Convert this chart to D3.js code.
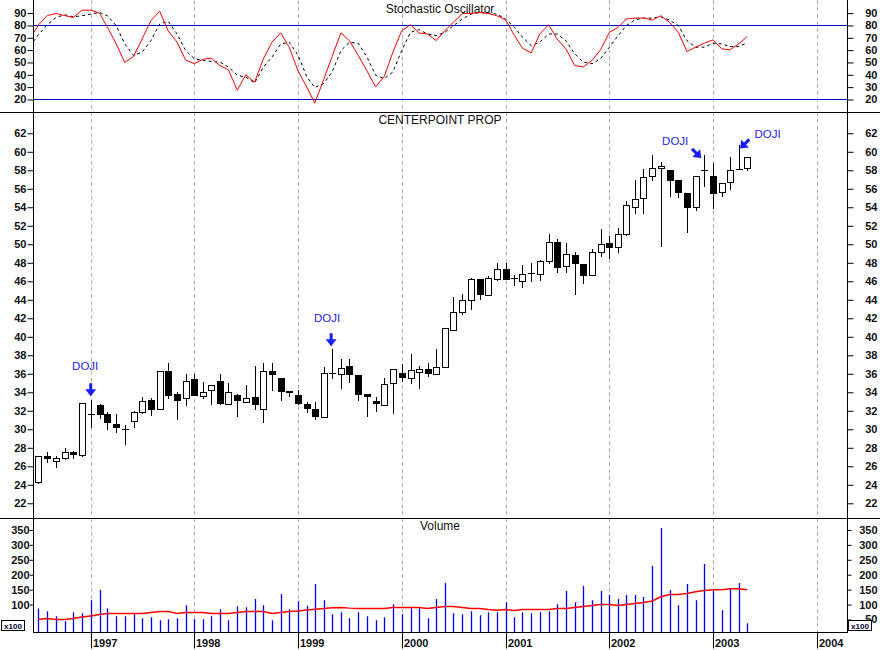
<!DOCTYPE html>
<html>
<head>
<meta charset="utf-8">
<script src="https://cdn.jsdelivr.net/npm/d3@7"></script>
<style>
  body { margin: 0; background: #fff; }
  svg text { font-family: Arial, "Liberation Sans", sans-serif; }
</style>
</head>
<body>
<script>
// monthly bars Jul 1996 .. May 2003
var open = [
  24.3, 27.1, 26.55, 26.9, 27.5, 27.2,
  31.6, 32.6, 31.6, 30.6, 30.0, 30.95, 31.85, 33.2, 32.2, 36.35, 33.85, 33.35,
  35.4, 33.65, 34.2, 35.2, 32.7, 33.7, 33.0, 33.45, 32.15, 36.3, 35.5, 34.15,
  33.75, 32.7, 32.2, 31.3, 36.1, 36.0, 36.8, 35.9, 33.8, 33.05, 32.6, 34.95,
  36.1, 35.5, 36.2, 36.5, 36.0, 36.7, 40.7, 42.65, 43.95, 46.2, 44.5, 46.2,
  47.3, 46.35, 46.0, 46.85, 46.75, 48.15, 50.3, 47.6, 48.85, 47.85, 46.65, 49.15,
  50.15, 49.7, 51.1, 54.0, 54.95, 57.35, 58.2, 58.05, 56.9, 55.5, 54.05, 58.0,
  57.35, 55.6, 56.7, 58.15, 58.2
];
var high = [
  27.1, 27.5, 27.1, 28.0, 27.65, 32.8,
  33.15, 32.7, 31.85, 31.6, 30.45, 31.95, 33.5, 33.4, 36.35, 37.15, 34.05, 36.0,
  35.95, 35.15, 34.8, 35.95, 35.0, 33.8, 34.75, 36.8, 37.15, 37.15, 35.5, 34.15,
  34.2, 33.0, 33.0, 36.75, 38.65, 37.55, 37.55, 35.9, 33.8, 33.5, 35.5, 36.5,
  37.05, 38.15, 36.8, 37.15, 38.65, 40.9, 44.3, 44.65, 46.35, 46.2, 46.6, 48.0,
  48.0, 46.7, 47.75, 48.0, 48.3, 51.1, 50.6, 50.15, 49.15, 47.85, 49.45, 51.6,
  50.9, 51.75, 54.7, 56.95, 58.1, 59.65, 58.85, 58.05, 56.9, 55.5, 57.35, 59.65,
  58.75, 56.6, 59.45, 60.75, 59.4
];
var low = [
  24.15, 26.5, 25.9, 26.8, 26.9, 27.1,
  30.25, 31.2, 30.0, 29.7, 28.45, 30.3, 31.8, 31.5, 32.2, 33.4, 31.1, 32.65,
  33.7, 33.35, 32.75, 32.75, 32.7, 31.45, 32.9, 32.2, 30.75, 34.2, 33.2, 33.55,
  32.7, 31.9, 31.1, 31.3, 35.5, 34.45, 35.15, 33.2, 31.4, 32.0, 32.6, 31.75,
  35.25, 35.0, 34.45, 35.75, 36.0, 36.7, 40.7, 42.5, 43.0, 44.05, 44.5, 46.1,
  46.2, 45.55, 45.4, 46.0, 46.15, 48.0, 46.95, 47.05, 44.65, 45.8, 46.65, 48.7,
  48.55, 49.15, 51.0, 53.4, 53.4, 56.95, 49.85, 55.25, 55.1, 51.35, 53.7, 56.35,
  53.95, 55.25, 55.95, 58.15, 58.05
];
var close = [
  27.1, 26.9, 26.9, 27.5, 27.3, 32.8,
  31.6, 31.7, 30.75, 30.3, 30.0, 31.85, 33.05, 32.2, 36.35, 33.75, 33.2, 35.2,
  33.75, 34.0, 34.75, 32.8, 34.0, 33.2, 33.35, 32.7, 36.35, 35.95, 34.15, 34.0,
  32.8, 32.3, 31.4, 36.05, 36.1, 36.65, 36.0, 33.8, 33.65, 32.8, 34.85, 36.5,
  35.6, 36.4, 36.5, 36.05, 36.7, 40.9, 42.65, 43.95, 46.2, 44.65, 46.35, 47.35,
  46.2, 46.35, 46.75, 46.85, 48.15, 50.3, 47.5, 48.9, 47.95, 46.7, 49.15, 50.0,
  49.75, 51.1, 54.2, 54.85, 57.25, 58.2, 58.5, 56.9, 55.7, 54.05, 57.35, 58.0,
  55.5, 56.6, 58.0, 58.15, 59.4
];
// volume in hundreds
var volume = [
  86.8, 77.8, 61, 44.2, 74.5, 71.1,
  114.8, 148.4, 87.9, 61, 61, 68.9, 54.3, 57.7, 47.6, 51, 54.3, 98,
  51, 51, 61, 84.6, 47.6, 94.6, 91.3, 118.2, 98, 47.6, 135, 84.6,
  111.4, 95.8, 168.6, 114.8, 67.8, 74.5, 54.3, 74.5, 61, 47.6, 57.7, 101.4,
  67.8, 87.9, 87.9, 54.3, 118.2, 172, 71.1, 67.8, 77.8, 64.4, 74.5, 74.5,
  108, 57.7, 74.5, 71.1, 74.5, 77.8, 101.4, 145, 108, 161.8, 114.8, 145,
  131.6, 118.2, 131.6, 131.6, 124.9, 229, 356.7, 148.4, 98, 168.6, 114.8, 235.8,
  145, 81.2, 151.8, 172, 37.5
];
var volumeAvg = [
  51, 53, 50, 50, 53, 58,
  62, 66.6, 70, 70, 70, 70, 70, 73.4, 76.7, 76.7, 70, 73.4,
  73.4, 73.4, 70, 70, 70, 73.4, 76.7, 76.7, 76.7, 70, 73.4, 76.7,
  78, 82, 84, 86.8, 89, 90, 88, 86.8, 86.8, 86.8, 86.8, 90,
  90, 90, 90, 87, 90, 93.5, 93.5, 90, 86.8, 86.8, 83.4, 81,
  83.4, 80, 83.4, 83.4, 83.4, 83.4, 86.8, 86.8, 90, 93.5, 97, 100,
  100, 97, 100, 103.6, 107, 112, 126, 133.8, 133.8, 137, 142.8, 147,
  149.5, 149.5, 152.9, 152.9, 149.5
];
// stochastic starts one month earlier (Jun 1996)
var stochK = [
  69, 80.5, 88, 89.7, 88, 86.5, 92.4,
  92.4, 90, 78.5, 65, 50, 55, 69, 84, 91.5, 75.5, 66.5, 52,
  49, 52.7, 53.5, 47.5, 44, 27.5, 40, 34, 53, 66.4, 74, 62.4,
  43, 30, 17, 36, 55, 74, 67.7, 55.7, 43, 30.2, 38.8, 58.4,
  75.8, 80.6, 73.9, 73.1, 67.7, 75.8, 82.5, 89.7, 89.7, 90.5, 89.7, 87.9,
  84.6, 71.8, 61.6, 57.8, 73.1, 80.6, 69.1, 61.1, 47.6, 46.3, 51.6, 60.2,
  74.4, 78.5, 85.2, 86, 86, 84.4, 87.9, 82.5, 74.4, 58.9, 62.4, 65.6,
  68.3, 61.1, 60.2, 65, 70.9
];
var stochD = [
  63, 72.6, 80.5, 86.5, 88.7, 87, 87.9,
  89.2, 90.5, 87.9, 79.8, 65, 55.7, 58.4, 67.7, 81.2, 83.3, 73.1, 59.7,
  53, 51.6, 50.8, 50.3, 46.3, 39.6, 38.2, 33.4, 46.3, 54.3, 65, 66.4,
  56, 38.2, 29.7, 32.9, 42.3, 59.7, 66.4, 65.6, 54.3, 39.6, 36.9, 42.3,
  59.7, 74.4, 76.6, 73.1, 71.8, 74.4, 79.8, 85.2, 89.2, 90.5, 90, 89.2,
  85.2, 78.5, 70.5, 63.7, 66.4, 73.1, 73.1, 67.7, 57, 50.3, 49, 53,
  62.4, 71.8, 79.8, 84.6, 86, 86, 87, 84.4, 79.8, 67.7, 62.4, 62.4,
  65.6, 65, 62.9, 62.9, 65.9
];
var dojiMonths = ["1997-01", "1999-05", "2002-12", "2003-04"];
var stochTicks = [20, 30, 40, 50, 60, 70, 80, 90];
var priceTicks = [22, 24, 26, 28, 30, 32, 34, 36, 38, 40, 42, 44, 46, 48, 50, 52, 54, 56, 58, 60, 62];
var volumeTicks = [50, 100, 150, 200, 250, 300, 350];
var yearTicks = [1997, 1998, 1999, 2000, 2001, 2002, 2003, 2004];

// layout
var width = 880, height = 650;
var left = 33, right = 847;
var stochBottom = 112, priceBottom = 518, volBottom = 632;
var labelColor = "#111";

var months = d3.timeMonth.range(new Date(1996, 6, 1), new Date(2003, 5, 1));
var stochMonths = d3.timeMonth.range(new Date(1996, 5, 1), new Date(2003, 5, 1));
var axisMonths = d3.timeMonth.range(new Date(1996, 6, 1), new Date(2004, 4, 1));
var yearDates = yearTicks.map(function (y) { return new Date(y, 0, 1); });
var parseMonth = d3.timeParse("%Y-%m");

var x = d3.scaleTime()
    .domain([new Date(1997, 0, 1), new Date(2004, 0, 1)])
    .range([90.7, 816.7]);
var yStoch = d3.scaleLinear().domain([10, 100]).range([111.8, 0.8]);
var yPrice = d3.scaleLinear().domain([20.41, 64.3]).range([priceBottom, stochBottom]);
var yVol = d3.scaleLinear().domain([8, 390]).range([volBottom, priceBottom]);

var svg = d3.select("body")
    .append("svg")
    .attr("width", width)
    .attr("height", height);

var defs = svg.append("defs");
[["clipStoch", 0, stochBottom], ["clipPrice", stochBottom, priceBottom], ["clipVol", priceBottom, volBottom]]
    .forEach(function (c) {
        defs.append("clipPath").attr("id", c[0])
            .append("rect")
            .attr("x", left + 0.5).attr("y", c[1])
            .attr("width", right - left - 1).attr("height", c[2] - c[1]);
    });

// year grid lines
svg.append("g")
    .selectAll("line")
    .data(yearDates)
    .enter()
    .append("line")
    .attr("x1", function (d) { return Math.round(x(d)) + 0.5; })
    .attr("x2", function (d) { return Math.round(x(d)) + 0.5; })
    .attr("y1", 0)
    .attr("y2", volBottom)
    .style("stroke", "#b4b4b4")
    .style("stroke-dasharray", "4,3");

// titles
function title(txt, y) {
    svg.append("text")
        .attr("x", 440).attr("y", y)
        .attr("text-anchor", "middle")
        .style("font-size", "12px")
        .style("fill", labelColor)
        .text(txt);
}
title("Stochastic Oscillator", 13);
title("CENTERPOINT PROP", 124);
title("Volume", 530);

// stochastic panel
svg.append("g")
    .selectAll("line")
    .data([80, 20])
    .enter()
    .append("line")
    .attr("x1", left).attr("x2", right)
    .attr("y1", function (d) { return Math.round(yStoch(d)) + 0.5; })
    .attr("y2", function (d) { return Math.round(yStoch(d)) + 0.5; })
    .style("stroke", "#0000c8")
    .style("stroke-width", 1);

var stochLine = function (vals) {
    return d3.line()
        .x(function (d, i) { return x(stochMonths[i]); })
        .y(function (d) { return yStoch(d); })(vals);
};
var sg = svg.append("g").attr("clip-path", "url(#clipStoch)");
sg.append("path")
    .attr("d", stochLine(stochD))
    .style("fill", "none")
    .style("stroke", "#000")
    .style("stroke-width", 1)
    .style("stroke-dasharray", "3,3");
sg.append("path")
    .attr("d", stochLine(stochK))
    .style("fill", "none")
    .style("stroke", "#ff0000")
    .style("stroke-width", 1);

// candles
var candles = months.map(function (d, i) {
    return { date: d, o: open[i], h: high[i], l: low[i], c: close[i] };
});
var cg = svg.append("g").attr("clip-path", "url(#clipPrice)");
var cx = function (d) { return Math.round(x(d.date)); };

cg.selectAll("line.wick")
    .data(candles)
    .enter()
    .append("line")
    .attr("class", "wick")
    .attr("x1", function (d) { return cx(d) + 0.5; })
    .attr("x2", function (d) { return cx(d) + 0.5; })
    .attr("y1", function (d) { return Math.round(yPrice(d.h)); })
    .attr("y2", function (d) { return Math.round(yPrice(d.l)) + 1; })
    .style("stroke", "#000");

cg.selectAll("rect.body")
    .data(candles.filter(function (d) { return Math.abs(yPrice(d.o) - yPrice(d.c)) >= 1; }))
    .enter()
    .append("rect")
    .attr("class", "body")
    .attr("x", function (d) { return cx(d) - 2.5; })
    .attr("width", 6)
    .attr("y", function (d) { return Math.round(yPrice(Math.max(d.o, d.c))) + 0.5; })
    .attr("height", function (d) {
        return Math.round(yPrice(Math.min(d.o, d.c))) - Math.round(yPrice(Math.max(d.o, d.c)));
    })
    .style("fill", function (d) { return d.c < d.o ? "#000" : "#fff"; })
    .style("stroke", "#000");

cg.selectAll("line.doji")
    .data(candles.filter(function (d) { return Math.abs(yPrice(d.o) - yPrice(d.c)) < 1; }))
    .enter()
    .append("line")
    .attr("class", "doji")
    .attr("x1", function (d) { return cx(d) - 3; })
    .attr("x2", function (d) { return cx(d) + 4; })
    .attr("y1", function (d) { return Math.round(yPrice(d.c)) + 0.5; })
    .attr("y2", function (d) { return Math.round(yPrice(d.c)) + 0.5; })
    .style("stroke", "#000");

// doji notes
var notePlace = [
    { ax: 0, ay: -4, rot: 0, tx: -5.5, ty: -30 },
    { ax: -1, ay: -3, rot: 0, tx: -5, ty: -27 },
    { ax: -3, ay: 3, rot: -45, tx: -29, ty: -10 },
    { ax: 1.5, ay: 3.7, rot: 45, tx: 29, ty: -7 }
];
var arrowPath = "M0,0 L-5.5,-7 L-1.5,-7 L-1.5,-13 L1.5,-13 L1.5,-7 L5.5,-7 Z";
dojiMonths.forEach(function (m, k) {
    var dt = parseMonth(m);
    var c = candles.filter(function (d) { return +d.date === +dt; })[0];
    var px = x(c.date), py = yPrice(c.h), p = notePlace[k];
    svg.append("path")
        .attr("d", arrowPath)
        .attr("transform", "translate(" + (px + p.ax) + "," + (py + p.ay) + ") rotate(" + p.rot + ")")
        .style("fill", "#1a1aff");
    svg.append("text")
        .attr("x", px + p.tx)
        .attr("y", py + p.ty)
        .attr("text-anchor", "middle")
        .style("font-size", "11.5px")
        .style("fill", "#2323f0")
        .text("DOJI");
});

// volume
var vg = svg.append("g").attr("clip-path", "url(#clipVol)");
vg.selectAll("line")
    .data(volume)
    .enter()
    .append("line")
    .attr("x1", function (d, i) { return Math.round(x(months[i])) + 0.5; })
    .attr("x2", function (d, i) { return Math.round(x(months[i])) + 0.5; })
    .attr("y1", function (d) { return yVol(d); })
    .attr("y2", volBottom)
    .style("stroke", "#0000ff")
    .style("stroke-width", 1.3);
vg.append("path")
    .attr("d", d3.line()
        .x(function (d, i) { return x(months[i]); })
        .y(function (d) { return yVol(d); })(volumeAvg))
    .style("fill", "none")
    .style("stroke", "#ff0000")
    .style("stroke-width", 1.5);

// frame lines
svg.append("line").attr("x1", 0).attr("x2", width).attr("y1", stochBottom + 0.5).attr("y2", stochBottom + 0.5).style("stroke", "#000");
svg.append("line").attr("x1", 0).attr("x2", width).attr("y1", priceBottom + 0.5).attr("y2", priceBottom + 0.5).style("stroke", "#000");
svg.append("line").attr("x1", left).attr("x2", right + 1).attr("y1", volBottom + 0.5).attr("y2", volBottom + 0.5).style("stroke", "#000");
svg.append("line").attr("x1", left + 0.5).attr("x2", left + 0.5).attr("y1", 0).attr("y2", volBottom).style("stroke", "#000");
svg.append("line").attr("x1", right + 0.5).attr("x2", right + 0.5).attr("y1", 0).attr("y2", volBottom).style("stroke", "#000");

// y axes on both sides
function sideAxes(scale, major, leftMajor, minor, majorLen, leftPad) {
    var lg = svg.append("g").attr("transform", "translate(" + (left + 0.5) + ",0)");
    lg.call(d3.axisLeft(scale).tickValues(minor).tickSize(3).tickFormat(""));
    lg.call(d3.axisLeft(scale).tickValues(leftMajor).tickSize(majorLen).tickPadding(leftPad));
    var rg = svg.append("g").attr("transform", "translate(" + (right + 0.5) + ",0)");
    rg.call(d3.axisRight(scale).tickValues(minor).tickSize(3).tickFormat(""));
    rg.call(d3.axisRight(scale).tickValues(major).tickSize(majorLen));
    rg.selectAll("text").attr("text-anchor", "end").attr("x", 30);
    [lg, rg].forEach(function (g) {
        g.selectAll(".domain").remove();
        g.selectAll("text")
            .style("font-size", "11px")
            .style("font-weight", "bold")
            .style("font-family", "Arial, 'Liberation Sans', sans-serif")
            .style("fill", labelColor);
        g.selectAll("line").style("stroke", "#000");
    });
}
sideAxes(yStoch, stochTicks, stochTicks, d3.range(15, 100, 5), 6, 1);
sideAxes(yPrice, priceTicks, priceTicks, d3.range(21, 64, 1), 6, 1);
// on the left the x100 box sits where the 50 label would be
sideAxes(yVol, volumeTicks, volumeTicks.slice(1), d3.range(10, 390, 10), 4, 0);

// x100 boxes
[1.5, right + 1.5].forEach(function (bx) {
    svg.append("rect")
        .attr("x", bx).attr("y", 620.5)
        .attr("width", 23).attr("height", 10)
        .style("fill", "#fff")
        .style("stroke", "#000");
    svg.append("text")
        .attr("x", bx + 11.5).attr("y", 628.5)
        .attr("text-anchor", "middle")
        .style("font-size", "8px")
        .style("font-weight", "bold")
        .style("fill", "#000030")
        .text("x100");
});

// date axis
var xg = svg.append("g").attr("transform", "translate(0," + (volBottom + 0.5) + ")");
xg.call(d3.axisBottom(x).tickValues(axisMonths).tickSize(5).tickFormat(""));
xg.call(d3.axisBottom(x).tickValues(yearDates).tickSize(16).tickFormat(d3.timeFormat("%Y")));
xg.selectAll(".domain").remove();
xg.selectAll(".tick line")
    .attr("transform", "translate(0.5,0)")
    .style("stroke", "#000");
xg.selectAll(".tick").attr("transform", function (d) { return "translate(" + Math.round(x(d)) + ",0)"; });
xg.selectAll("text")
    .attr("text-anchor", "start")
    .attr("x", 2)
    .attr("y", 7)
    .style("font-size", "11px")
    .style("font-weight", "bold")
    .style("font-family", "Arial, 'Liberation Sans', sans-serif")
    .style("fill", labelColor);
</script>
</body>
</html>
